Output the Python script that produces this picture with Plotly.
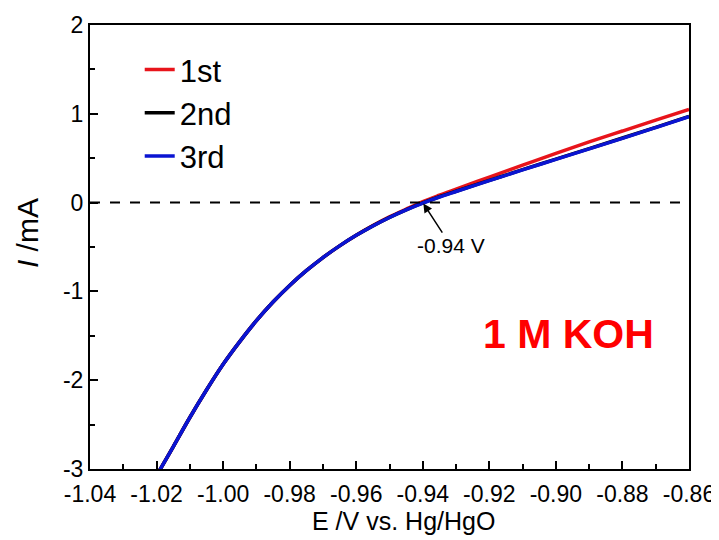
import plotly.graph_objects as go

# Potential (V vs. Hg/HgO)
E = [-1.019, -1.015, -1.010, -1.005, -1.000, -0.995, -0.990, -0.985, -0.980,
     -0.975, -0.970, -0.965, -0.960, -0.955, -0.950, -0.945, -0.940, -0.935,
     -0.930, -0.920, -0.910, -0.900, -0.890, -0.880, -0.870, -0.860]

# Current (mA) for the three scans
I_1st = [-3.01, -2.75, -2.42, -2.11, -1.82, -1.565, -1.33, -1.12, -0.933,
         -0.767, -0.619, -0.487, -0.367, -0.258, -0.16, -0.073, 0.01, 0.083,
         0.152, 0.288, 0.422, 0.555, 0.683, 0.806, 0.928, 1.05]
I_2nd = [-3.01, -2.75, -2.42, -2.11, -1.82, -1.565, -1.33, -1.12, -0.933,
         -0.767, -0.619, -0.487, -0.369, -0.262, -0.166, -0.081, -0.004, 0.066,
         0.128, 0.25, 0.371, 0.49, 0.608, 0.727, 0.848, 0.97]
I_3rd = [-3.01, -2.75, -2.42, -2.11, -1.82, -1.565, -1.33, -1.12, -0.933,
         -0.767, -0.619, -0.487, -0.369, -0.263, -0.168, -0.083, -0.006, 0.063,
         0.125, 0.247, 0.368, 0.487, 0.605, 0.724, 0.845, 0.967]

series_names = ["1st", "2nd", "3rd"]
series_colors = ["#e8141b", "#000000", "#0a14d2"]
series_values = [I_1st, I_2nd, I_3rd]

x_tick_vals = [-1.04, -1.02, -1.00, -0.98, -0.96, -0.94, -0.92, -0.90, -0.88, -0.86]
x_tick_text = ["-1.04", "-1.02", "-1.00", "-0.98", "-0.96", "-0.94", "-0.92", "-0.90", "-0.88", "-0.86"]
y_tick_vals = [-3, -2, -1, 0, 1, 2]
y_tick_text = ["-3", "-2", "-1", "0", "1", "2"]

x_title = "E /V vs. Hg/HgO"
y_title = "<i>I</i> /mA"
onset_E = -0.94
onset_label = "-0.94 V"
electrolyte_label = "1 M KOH"

FONT = "Arial, 'Liberation Sans', Helvetica, sans-serif"

fig = go.Figure()
for name, color, vals in zip(series_names, series_colors, series_values):
    fig.add_trace(go.Scatter(x=E, y=vals, mode="lines", name=name, legendgroup=name,
                             line=dict(color=color, width=3.5, shape="spline", smoothing=1.0)))

fig.add_hline(y=0, line=dict(color="black", width=2, dash="10px,10px"))

fig.add_annotation(x=onset_E, y=0, xref="x", yref="y", text=onset_label,
                   showarrow=True, arrowhead=2, arrowsize=1.2, arrowwidth=1.5,
                   arrowcolor="black", ax=28, ay=43, standoff=1,
                   font=dict(family=FONT, size=21, color="black"))

fig.add_annotation(x=-0.8962, y=-1.48, xref="x", yref="y", text="<b>" + electrolyte_label + "</b>",
                   showarrow=False, font=dict(family=FONT, size=41, color="#ff0000"))

# axis titles (placed as in the reference)
fig.add_annotation(x=0.524, y=-0.117, xref="paper", yref="paper", text=x_title,
                   showarrow=False, xanchor="center", yanchor="middle",
                   font=dict(family=FONT, size=25, color="black"))
fig.add_annotation(x=-0.105, y=0.5315, xref="paper", yref="paper", text=y_title,
                   showarrow=False, textangle=-90, xanchor="center", yanchor="middle",
                   font=dict(family=FONT, size=30, color="black"))

axis_common = dict(showline=True, linecolor="black", linewidth=2, mirror=True,
                   ticks="inside", ticklen=8, tickwidth=1.5, tickcolor="black",
                   showgrid=False, zeroline=False, automargin=False,
                   tickfont=dict(family=FONT, size=23, color="black"))

fig.update_xaxes(range=[-1.04, -0.86], tickvals=x_tick_vals, ticktext=x_tick_text,
                 ticklabelstandoff=3,
                 minor=dict(ticks="inside", ticklen=5, dtick=0.01, tickcolor="black", tickwidth=1.5),
                 **axis_common)
fig.update_yaxes(range=[-3, 2], tickvals=y_tick_vals, ticktext=y_tick_text,
                 minor=dict(ticks="inside", ticklen=5, dtick=0.5, tickcolor="black", tickwidth=1.5),
                 **axis_common)

# The page body adds an 8px offset; margins compensate so the plot sits where the reference has it.
fig.update_layout(width=719, height=540,
                  margin=dict(l=82, r=38, t=17, b=79),
                  plot_bgcolor="white", paper_bgcolor="white",
                  legend=dict(x=0.083, y=0.96, xanchor="left", yanchor="top",
                              bgcolor="rgba(0,0,0,0)", font=dict(family=FONT, size=31, color="black"),
                              tracegroupgap=0),
                  showlegend=True)

fig.write_html("out.html")
